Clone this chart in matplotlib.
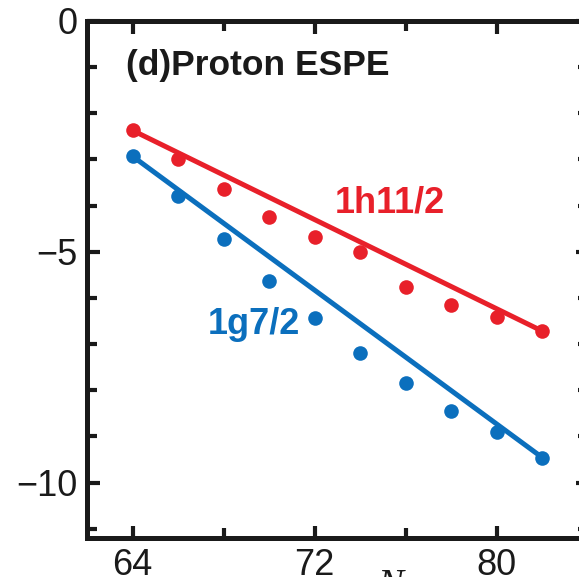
import matplotlib
matplotlib.use("Agg")
import matplotlib.pyplot as plt
from matplotlib.ticker import MultipleLocator

# Proton effective single-particle energies vs neutron number
N = [64, 66, 68, 70, 72, 74, 76, 78, 80, 82]
h11_2 = [-2.37, -3.00, -3.65, -4.25, -4.67, -5.01, -5.77, -6.16, -6.41, -6.72]
g7_2 = [-2.93, -3.79, -4.73, -5.63, -6.44, -7.19, -7.84, -8.44, -8.90, -9.46]

# straight trend lines drawn through the data
fit_N = [64, 82]
h11_2_fit = [-2.37, -6.72]
g7_2_fit = [-2.93, -9.46]

red = '#e8202a'
blue = '#0b6fbd'

plt.rcParams['font.family'] = ['Liberation Sans', 'DejaVu Sans']

fig = plt.figure(figsize=(5.79, 5.77), dpi=100)
ax = fig.add_axes([87 / 579, 1 - 538 / 577, 501 / 579, 517 / 577])

ax.plot(fit_N, h11_2_fit, color=red, linewidth=3.6, solid_capstyle='round')
ax.plot(fit_N, g7_2_fit, color=blue, linewidth=3.6, solid_capstyle='round')
ax.plot(N, h11_2, 'o', color=red, markersize=10.5, markeredgewidth=0)
ax.plot(N, g7_2, 'o', color=blue, markersize=10.5, markeredgewidth=0)

ax.text(72.9, -4.15, '1h11/2', color=red, fontsize=26, fontweight='bold', ha='left', va='baseline')
ax.text(67.3, -6.78, '1g7/2', color=blue, fontsize=26, fontweight='bold', ha='left', va='baseline')
ax.text(0.078, 0.895, '(d)Proton ESPE', transform=ax.transAxes, fontsize=25.5,
        fontweight='bold', ha='left', va='baseline', color='#1a1a1a')
ax.text(0.605, -0.058, 'N', transform=ax.transAxes, fontsize=28, style='italic',
        family='Liberation Serif', ha='center', va='top', color='#1a1a1a')

ax.set_xlim(62, 84)
ax.set_ylim(-11.2, 0)
ax.set_xticks([64, 72, 80])
ax.xaxis.set_minor_locator(MultipleLocator(4))
ax.set_yticks([0, -5, -10])
ax.set_yticklabels(['0', '\u22125', '\u221210'])
ax.yaxis.set_minor_locator(MultipleLocator(1))

for s in ax.spines.values():
    s.set_linewidth(3.6)
    s.set_color('#1a1a1a')
ax.tick_params(which='both', direction='in', top=True, right=True, width=3, color='#1a1a1a',
               labelsize=26, labelcolor='#1a1a1a')
ax.tick_params(which='major', length=9, pad=7)
ax.tick_params(which='minor', length=7)

fig.savefig('out.png', dpi=100)
